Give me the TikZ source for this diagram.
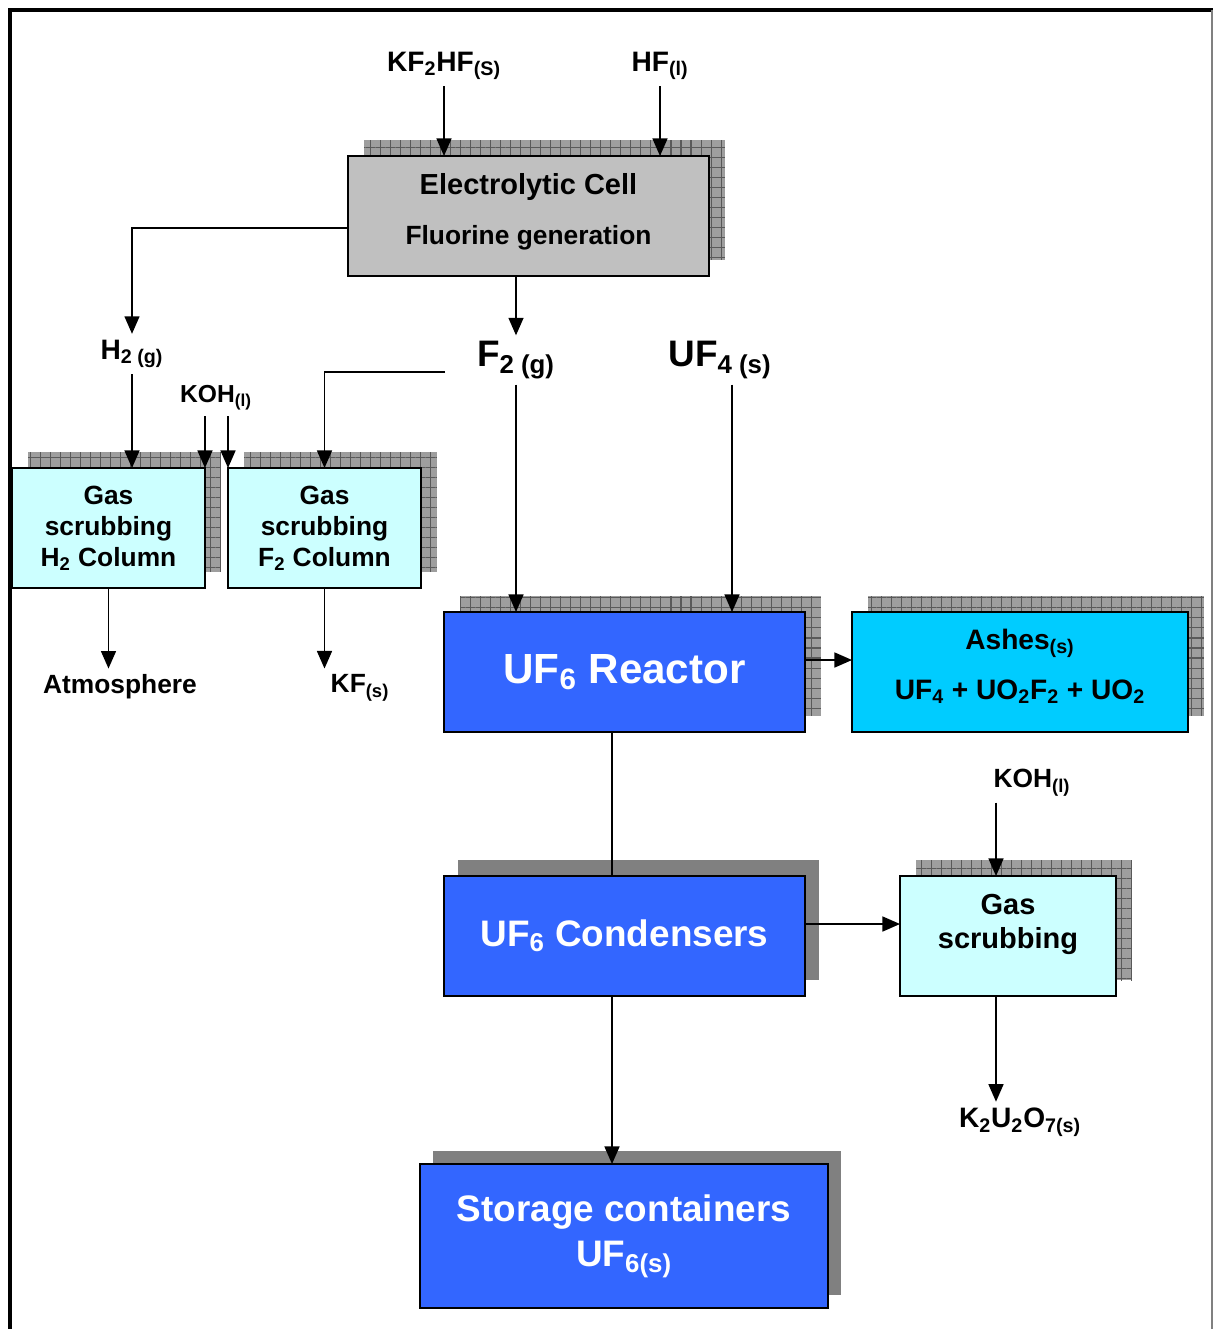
\documentclass[tikz,border=0pt]{standalone}
\usepackage{fontspec}
\setmainfont{Liberation Sans}
\usetikzlibrary{arrows.meta,patterns.meta,backgrounds}

\definecolor{cellgray}{HTML}{C0C0C0}
\definecolor{scrubcyan}{HTML}{CCFFFF}
\definecolor{ublue}{HTML}{3366FF}
\definecolor{ashcyan}{HTML}{00CCFF}

\begin{document}
\begin{tikzpicture}[x=0.02cm, y=-0.02cm, line width=1pt,
	box/.style={draw, line width=1pt, inner sep=0pt, outer sep=0pt, align=center, minimum height=2.4cm},
	arr/.style={-{Triangle[length=10pt,width=8.5pt]}},
	lbl/.style={font=\bfseries\fontsize{16}{19}\selectfont, inner sep=3pt},
	big/.style={font=\bfseries\fontsize{21}{25}\selectfont, inner sep=3pt},
	gridshade/.style={fill=black!38, postaction={pattern={Hatch[distance=5.7pt,angle=0,line width=0.6pt]}, pattern color=black!65}},
	flatshade/.style={fill=black!50}]
				\useasboundingbox (0,0) rectangle (1213,1329);
				
				% frame
				\draw[line width=2.3pt] (8,10) -- (1213,10);
				\draw[line width=2.3pt] (10,8) -- (10,1329);
				\draw[black!50, line width=0.6pt] (1212,10) -- (1212,1329);
				
				% boxes
				\node[box, fill=cellgray, minimum width=7.22cm, font=\bfseries\fontsize{15}{19}\selectfont] (ecell) at (528.5,216) {{\fontsize{16.5}{19}\selectfont Electrolytic Cell}\\[9.5pt]Fluorine generation\\[-11.2pt]\mbox{}};
				\node[box, fill=scrubcyan, minimum width=3.86cm, font=\bfseries\fontsize{15}{17.6}\selectfont] (h2col) at (108.5,528) {Gas\\scrubbing\\H\textsubscript{2} Column};
				\node[box, fill=scrubcyan, minimum width=3.86cm, font=\bfseries\fontsize{15}{17.6}\selectfont] (f2col) at (324.5,528) {Gas\\scrubbing\\F\textsubscript{2} Column};
				\node[box, fill=ublue, text=white, minimum width=7.22cm, font=\bfseries\fontsize{24}{29}\selectfont] (reactor) at (624.5,672) {UF\textsubscript{6} Reactor};
				\node[box, fill=ashcyan, minimum width=6.72cm, font=\bfseries\fontsize{16}{19}\selectfont] (ashes) at (1020,672) {Ashes\textsubscript{(s)}\\[9.5pt]UF\textsubscript{4} + UO\textsubscript{2}F\textsubscript{2} + UO\textsubscript{2}\\[-10pt]\mbox{}};
				\node[box, fill=ublue, text=white, minimum width=7.22cm, font=\bfseries\fontsize{21}{25}\selectfont] (cond) at (624.5,936) {UF\textsubscript{6} Condensers};
				\node[box, fill=scrubcyan, minimum width=4.32cm, font=\bfseries\fontsize{16.5}{19.5}\selectfont] (gscrub) at (1008,936) {Gas\\scrubbing\\[-3.25pt]\mbox{}};
				\node[box, fill=ublue, text=white, minimum width=8.16cm, minimum height=2.88cm, font=\bfseries\fontsize{21}{25.6}\selectfont] (storage) at (624,1236) {Storage containers\\UF\textsubscript{6(s)}};
				
				% shadows
				\begin{scope}[on background layer]
					\foreach \b in {ecell,h2col,f2col,reactor,ashes,gscrub}
						\path[gridshade] ([shift={(16,-16)}]\b.south west) rectangle ([shift={(16,-16)}]\b.north east);
					\path[flatshade] ([shift={(14,-16)}]cond.south west) rectangle ([shift={(14,-16)}]cond.north east);
					\path[flatshade] ([shift={(13,-13)}]storage.south west) rectangle ([shift={(13,-13)}]storage.north east);
				\end{scope}
				
				% labels
				\node[lbl] (kfhf) at (444,66) {KF\textsubscript{2}HF\textsubscript{(S)}};
				\node[lbl] (hfl) at (660,66) {HF\textsubscript{(l)}};
				\node[lbl] (h2g) at (132,354) {H\textsubscript{2 (g)}};
				\node[lbl, font=\bfseries\fontsize{14}{17}\selectfont] (koh) at (216,398) {KOH\textsubscript{(l)}};
				\node[big] (f2g) at (516,360) {F\textsubscript{2 (g)}};
				\node[big] (uf4) at (720,360) {UF\textsubscript{4 (s)}};
				\node[lbl, font=\bfseries\fontsize{15}{18}\selectfont] (atm) at (120,687) {Atmosphere};
				\node[lbl, font=\bfseries\fontsize{15}{18}\selectfont] (kfs) at (360,688) {KF\textsubscript{(s)}};
				\node[lbl, font=\bfseries\fontsize{15}{18}\selectfont] (koh2) at (1032,783) {KOH\textsubscript{(l)}};
				\node[lbl] (k2u2o7) at (1020,1122) {K\textsubscript{2}U\textsubscript{2}O\textsubscript{7(s)}};
				\coordinate (f2tap) at (445,372);
				
				% connectors
				\draw[arr] (kfhf) -- (kfhf |- ecell.north);
				\draw[arr] (hfl) -- (hfl |- ecell.north);
				\draw[arr] (ecell.west |- 0,228) -| (h2g);
				\draw[arr] (ecell.south -| f2g) -- (f2g);
				\draw[arr] (h2g) -- (h2g |- h2col.north);
				\draw[arr] (koh.south -| h2col.north east) -- (h2col.north east);
				\draw[arr] (koh.south -| f2col.north west) -- (f2col.north west);
				\draw[arr] (f2tap) -| (f2col);
				\draw[arr] (f2g) -- (f2g |- reactor.north);
				\draw[arr] (uf4.south -| 732,0) -- (reactor.north -| 732,0);
				\draw[arr] (h2col) -- (h2col |- atm.north);
				\draw[arr] (f2col) -- (f2col |- kfs.north);
				\draw[arr] (reactor.east |- 0,660) -- (ashes.west |- 0,660);
				\draw (reactor.south -| 612,0) -- (cond.north -| 612,0);
				\draw[arr] (cond.east |- 0,924) -- (gscrub.west |- 0,924);
				\draw[arr] (koh2.south -| 996,0) -- (gscrub.north -| 996,0);
				\draw[arr] (gscrub.south -| 996,0) -- (k2u2o7.north -| 996,0);
				\draw[arr] (cond.south -| 612,0) -- (storage.north -| 612,0);
			\end{tikzpicture}
\end{document}
